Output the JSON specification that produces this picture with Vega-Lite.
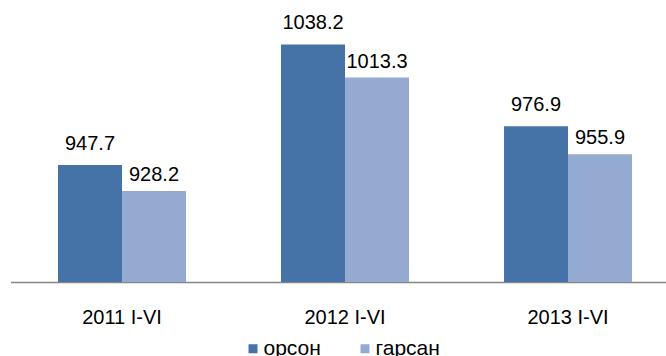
{
  "$schema": "https://vega.github.io/schema/vega-lite/v6.json",
  "width": 655.5,
  "height": 280,
  "autosize": {"type": "none"},
  "padding": {"left": 10.5, "top": 2, "right": 0, "bottom": 74},
  "config": {"view": {"stroke": null}, "font": "Arial"},
  "data": {
    "values": [
      {"period": "2011 I-VI", "series": "орсон", "value": 947.7},
      {"period": "2011 I-VI", "series": "гарсан", "value": 928.2},
      {"period": "2012 I-VI", "series": "орсон", "value": 1038.2},
      {"period": "2012 I-VI", "series": "гарсан", "value": 1013.3},
      {"period": "2013 I-VI", "series": "орсон", "value": 976.9},
      {"period": "2013 I-VI", "series": "гарсан", "value": 955.9}
    ]
  },
  "encoding": {
    "x": {
      "field": "period", "type": "nominal", "sort": null,
      "scale": {"paddingInner": 0.426, "paddingOuter": 0.1827, "align": 0.583},
      "axis": {"title": null, "labelAngle": 0, "ticks": false, "tickSize": 0, "labelPadding": 25, "labelFontSize": 20, "labelFont": "Arial", "labelColor": "#000000", "domainColor": "#868686", "domainWidth": 1.5, "grid": false}
    },
    "xOffset": {"field": "series", "type": "nominal", "sort": ["орсон", "гарсан"], "scale": {"paddingInner": 0, "paddingOuter": 0}},
    "y": {"field": "value", "type": "quantitative", "scale": {"domain": [860, 1070], "zero": false, "nice": false}, "axis": null}
  },
  "layer": [
    {
      "mark": {"type": "bar", "clip": true},
      "encoding": {
        "color": {
          "field": "series", "type": "nominal", "sort": ["орсон", "гарсан"],
          "scale": {"domain": ["орсон", "гарсан"], "range": ["#4573A7", "#95AAD1"]},
          "legend": {"orient": "none", "legendX": 232, "legendY": 336, "direction": "horizontal", "title": null, "symbolType": "square", "symbolSize": 81, "symbolStrokeWidth": 0, "labelFontSize": 21, "labelFont": "Arial", "labelOffset": 0, "columnPadding": 33, "labelColor": "#000000"}
        }
      }
    },
    {
      "transform": [{"filter": "datum.series === 'орсон'"}],
      "mark": {"type": "text", "baseline": "alphabetic", "dy": -15, "fontSize": 20, "font": "Arial", "color": "#000000"},
      "encoding": {"text": {"field": "value", "type": "quantitative", "format": ".1f"}}
    },
    {
      "transform": [{"filter": "datum.series === 'гарсан'"}],
      "mark": {"type": "text", "baseline": "alphabetic", "dy": -10, "fontSize": 20, "font": "Arial", "color": "#000000"},
      "encoding": {"text": {"field": "value", "type": "quantitative", "format": ".1f"}}
    }
  ]
}
